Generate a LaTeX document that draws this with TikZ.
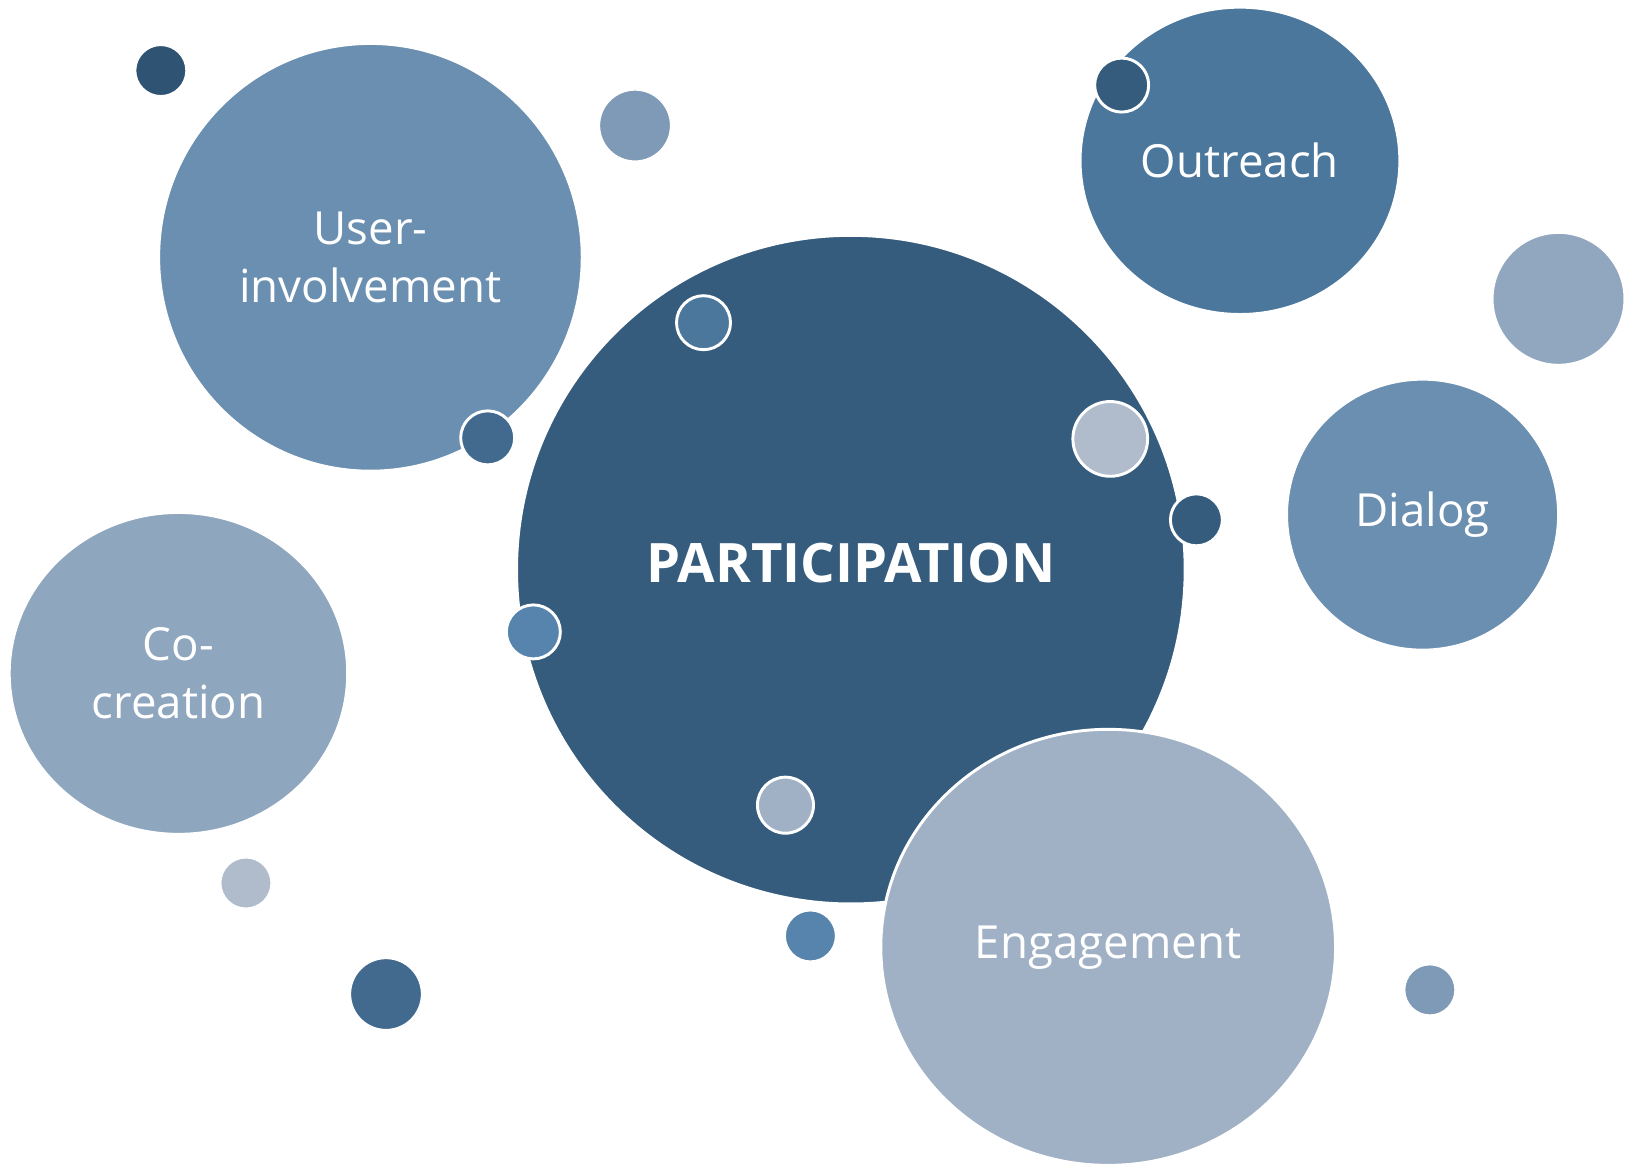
\documentclass[tikz,border=0pt]{standalone}
\usepackage{fontspec}
\setmainfont{Open Sans}
\usetikzlibrary{shapes.geometric}
\definecolor{partblue}{HTML}{355C7D}
\definecolor{userblue}{HTML}{6B8FB0}
\definecolor{outblue}{HTML}{4B779D}
\definecolor{coblue}{HTML}{8FA6BF}
\definecolor{engblue}{HTML}{A0B1C6}
\definecolor{darkdot}{HTML}{2E5373}
\definecolor{middot}{HTML}{7F9AB6}
\definecolor{greydot}{HTML}{91A6BF}
\definecolor{paledot}{HTML}{B0BCCB}
\definecolor{deepdot}{HTML}{416A8E}
\definecolor{brightdot}{HTML}{5784AC}

\begin{document}
\begin{tikzpicture}[
        x=0.01cm, y=-0.01cm,
        bubble/.style={ellipse, draw=white, line width=0.8pt, inner sep=0pt, text=white, align=center,
            font=\fontsize{12.5}{15.8}\selectfont},
        dot/.style={circle, draw=white, line width=0.8pt, inner sep=0pt},
    ]
        \useasboundingbox (0,0) rectangle (1568,1122);
        % Outer bubbles
        \node[bubble, fill=userblue, minimum width=4.08cm, minimum height=4.12cm] (user) at (357,248) {User-\\involvement};
        \node[bubble, fill=outblue, minimum width=3.08cm, minimum height=2.96cm] (outreach) at (1195,155) {Outreach};
        \node[bubble, fill=userblue, minimum width=2.62cm, minimum height=2.61cm] (dialog) at (1371,496) {Dialog};
        \node[bubble, fill=coblue, minimum width=3.26cm, minimum height=3.10cm] (cocreation) at (172,649) {Co-\\creation};
        % Centre bubble
        \node[bubble, fill=partblue, minimum width=6.44cm, minimum height=6.44cm] (part) at (820,549) {};
        \node[text=white, font=\bfseries\fontsize{14.9}{17}\selectfont] (parttext) at (820,543) {PARTICIPATION};
        % Dots on the bubbles
        \node[dot, fill=outblue, minimum size=0.52cm] (dotpart1) at (678,311) {};
        \node[dot, fill=paledot, minimum size=0.72cm] (dotpart2) at (1070,423) {};
        \node[dot, fill=partblue, minimum size=0.50cm] (dotpart3) at (1153,501) {};
        \node[dot, fill=brightdot, minimum size=0.52cm] (dotpart4) at (514,609) {};
        \node[dot, fill=engblue, minimum size=0.54cm] (dotpart5) at (757,776) {};
        \node[dot, fill=deepdot, minimum size=0.52cm] (dotuser) at (470,422) {};
        \node[dot, fill=partblue, minimum size=0.52cm] (dotout) at (1081,82) {};
        % Engagement over the centre
        \node[bubble, fill=engblue, minimum width=4.38cm, minimum height=4.20cm] (engagement) at (1068,913) {Engagement};
        % Loose dots
        \node[dot, fill=darkdot, minimum size=0.50cm] (dot1) at (155,68) {};
        \node[dot, fill=middot, minimum size=0.70cm] (dot2) at (612,121) {};
        \node[dot, fill=greydot, minimum size=1.28cm] (dot3) at (1502,288) {};
        \node[dot, fill=paledot, minimum size=0.50cm] (dot4) at (237,851) {};
        \node[dot, fill=deepdot, minimum size=0.70cm] (dot5) at (372,958) {};
        \node[dot, fill=brightdot, minimum size=0.50cm] (dot6) at (781,902) {};
        \node[dot, fill=middot, minimum size=0.50cm] (dot7) at (1378,954) {};
    \end{tikzpicture}
\end{document}
